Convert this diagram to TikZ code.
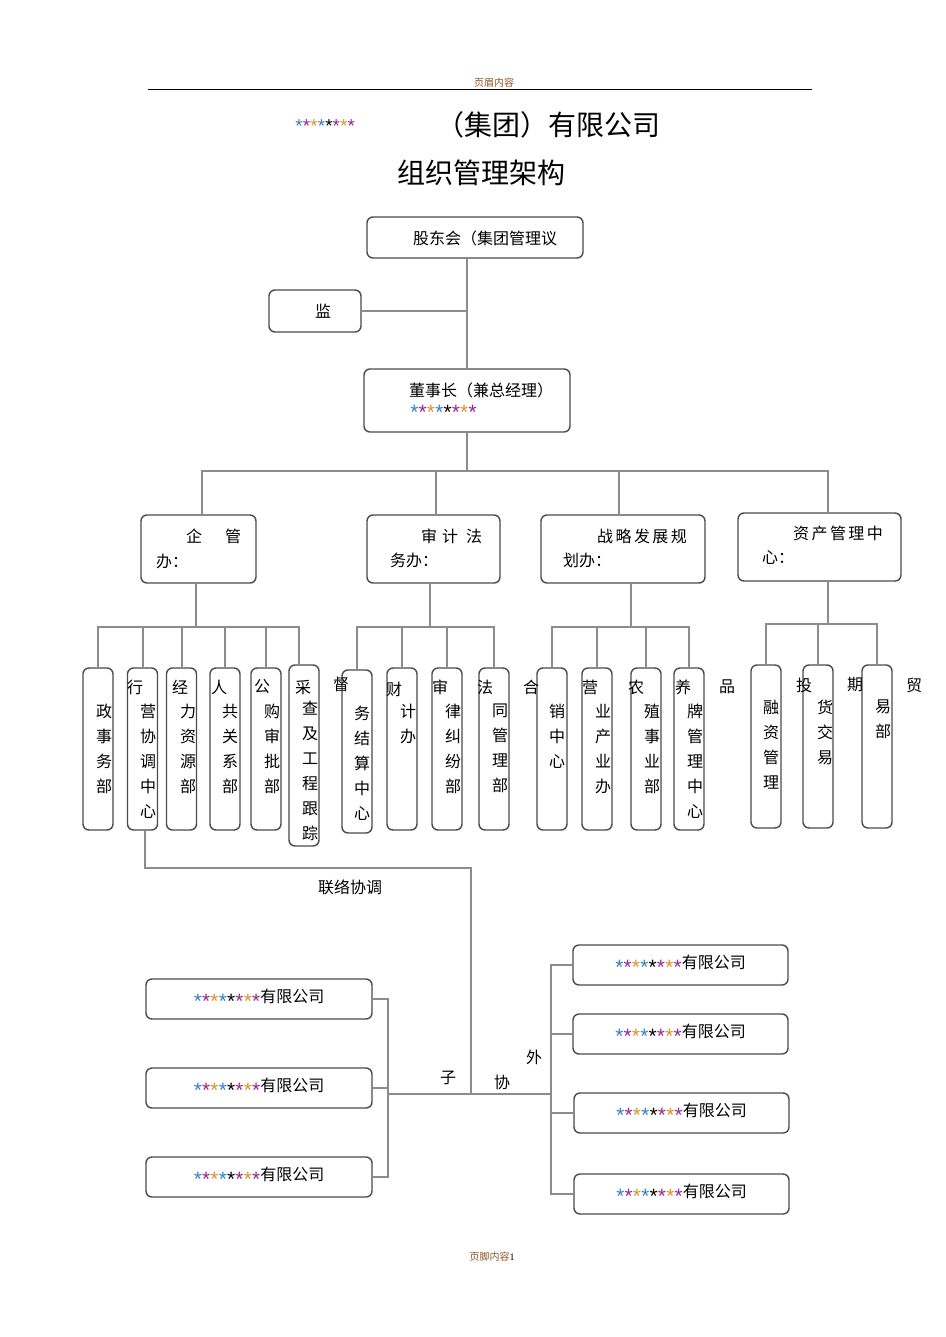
\documentclass[tikz,border=0pt]{standalone}
\usepackage{fontspec}
\setmainfont{Noto Sans CJK SC}
\newfontfamily\latinserif{Liberation Serif}
\newfontfamily\starfont{Liberation Sans}
\usetikzlibrary{positioning}

\definecolor{linegray}{RGB}{140,140,140}
\definecolor{boxgray}{RGB}{75,75,75}
\definecolor{hdrbrown}{RGB}{140,85,35}
\definecolor{starpurple}{RGB}{150,40,140}
\definecolor{starorange}{RGB}{215,150,40}
\definecolor{starblue}{RGB}{50,130,200}
\newcommand\onestar[1]{\makebox[0.52em]{\color{#1}\raisebox{-0.36em}{\scalebox{1.3}{*}}}}
\newcommand\colstars{{\starfont\onestar{starblue}\onestar{starpurple}\onestar{starorange}\onestar{starblue}\onestar{black}\onestar{starpurple}\onestar{starorange}\onestar{starpurple}}}

\tikzset{
  box/.style={draw=boxgray, line width=1.4pt, rounded corners=6pt, inner sep=0pt, font=\fontsize{16}{19}\selectfont},
  link/.style={draw=linegray, line width=2pt},
  txt/.style={inner sep=0pt, font=\fontsize{16}{19}\selectfont},
  vtxt/.style={inner sep=0pt, align=center, anchor=north, font=\fontsize{16}{25}\selectfont},
}

\begin{document}
\begin{tikzpicture}[x=1pt,y=-1pt]
  \useasboundingbox (0,0) rectangle (945,1337);
  \fill[white] (0,0) rectangle (945,1337);

  % page header and title
  \node[txt, font=\fontsize{10}{12}\selectfont, text=hdrbrown] (hdr) at (494,83) {页眉内容};
  \draw[line width=1pt] (148,90) -- (812,90);
  \node[txt, anchor=west, font=\fontsize{14.4}{16}\selectfont] (tstars) at (295,126) {\colstars};
  \node[txt, anchor=west, font=\fontsize{28}{30}\selectfont] (title) at (436,125) {（集团）有限公司};
  \node[txt, font=\fontsize{28}{30}\selectfont] (subtitle) at (481,173) {组织管理架构};

  % top levels
  \node[box, minimum width=216pt, minimum height=41pt] (gdh) at (475,237.5) {};
  \node[txt, anchor=west] (gdhtxt) at (413,238) {股东会（集团管理议};
  \node[box, minimum width=92pt, minimum height=42pt] (jian) at (315,311) {};
  \node[txt] (jiantxt) at (323,311) {监};
  \node[box, minimum width=206pt, minimum height=63pt] (dsz) at (467,400.5) {};
  \node[txt, anchor=west] (dsztxt) at (409,390) {董事长（兼总经理）};
  \node[txt, anchor=west] (dszstars) at (410,412) {\colstars};

  \draw[link] (dsz.north) -- (dsz.north |- gdh.south);
  \draw[link] (jian.east) -- (jian.east -| dsz.north);

  % offices
  \node[box, minimum width=115pt, minimum height=68pt] (qg) at (198.5,549) {};
  \node[txt, anchor=west] (qga) at (186,536) {企\hspace{23pt}管};
  \node[txt, anchor=west] (qgb) at (156,561) {办：};
  \node[box, minimum width=133pt, minimum height=68pt] (sj) at (433.5,549) {};
  \node[txt, anchor=west] (sja) at (421,536) {审\hspace{5pt}计\hspace{8pt}法};
  \node[txt, anchor=west] (sjb) at (390,560) {务办：};
  \node[box, minimum width=164pt, minimum height=68pt] (zl) at (623,549) {};
  \node[txt, anchor=west] (zla) at (597,536) {战\hspace{2.4pt}略\hspace{2.4pt}发\hspace{2.4pt}展\hspace{2.4pt}规};
  \node[txt, anchor=west] (zlb) at (563,560) {划办：};
  \node[box, minimum width=163pt, minimum height=68pt] (zc) at (819.5,547) {};
  \node[txt, anchor=west] (zca) at (793,533) {资\hspace{2.4pt}产\hspace{2.4pt}管\hspace{2.4pt}理\hspace{2.4pt}中};
  \node[txt, anchor=west] (zcb) at (762,558) {心：};

  \draw[link] (dsz.south) -- ++(0,38) coordinate (bus);
  \draw[link] (bus) -| ([xshift=3.5pt]qg.north);
  \draw[link] (bus) -| ([xshift=2.5pt]sj.north);
  \draw[link] (bus) -| ([xshift=-4pt]zl.north);
  \draw[link] (bus) -| ([xshift=8.5pt]zc.north);

  % departments
  \foreach \nm/\x in {v11/98, v12/142.5, v13/181.5, v14/225, v15/266,
                      v22/402, v23/447, v24/494,
                      v31/552, v32/597, v33/646, v34/689}
    \node[box, minimum width=30pt, minimum height=162pt] (\nm) at (\x,749) {};
  \node[box, minimum width=30pt, minimum height=181pt] (v16) at (304,755.5) {};
  \node[box, minimum width=30pt, minimum height=163pt] (v21) at (357,751.5) {};
  \foreach \nm/\x in {v41/766, v42/818, v43/877}
    \node[box, minimum width=30pt, minimum height=163pt] (\nm) at (\x,746.5) {};

  \draw[link] ([xshift=-2.5pt]qg.south) -- ++(0,43) coordinate (qgbus);
  \foreach \nm in {v11,v12,v13,v14,v15}
    \draw[link] (qgbus) -| (\nm.north);
  \draw[link] (qgbus) -| ([xshift=-5pt]v16.north);
  \draw[link] ([xshift=-3.5pt]sj.south) -- ++(0,43) coordinate (sjbus);
  \foreach \nm in {v21,v22,v23,v24}
    \draw[link] (sjbus) -| (\nm.north);
  \draw[link] ([xshift=8pt]zl.south) -- ++(0,43) coordinate (zlbus);
  \foreach \nm in {v31,v32,v33,v34}
    \draw[link] (zlbus) -| (\nm.north);
  \draw[link] ([xshift=8.5pt]zc.south) -- ++(0,42) coordinate (zcbus);
  \foreach \nm in {v41,v42,v43}
    \draw[link] (zcbus) -| (\nm.north);

  % stray first characters
  \foreach \c/\x/\y [count=\i] in {行/135/687, 经/180/687, 人/219/687, 公/262/687, 采/303/687,
                                    督/341/684, 财/394/689, 审/440/687, 法/485/687,
                                    合/531/687, 营/590/687, 农/636/687, 养/683/687, 品/727/687,
                                    投/804/685, 期/855/685, 贸/914/685}
    \node[txt] (lead\i) at (\x,\y) {\c};

  \node[vtxt] (t11) at (104,704) {政\\事\\务\\部};
  \node[vtxt] (t12) at (148,704) {营\\协\\调\\中\\心};
  \node[vtxt] (t13) at (188,704) {力\\资\\源\\部};
  \node[vtxt] (t14) at (230,704) {共\\关\\系\\部};
  \node[vtxt] (t15) at (272,704) {购\\审\\批\\部};
  \node[vtxt] (t16) at (310,701) {查\\及\\工\\程\\跟\\踪};
  \node[vtxt] (t21) at (362,706) {务\\结\\算\\中\\心};
  \node[vtxt] (t22) at (408,704) {计\\办};
  \node[vtxt] (t23) at (453,704) {律\\纠\\纷\\部};
  \node[vtxt] (t24) at (500,704) {同\\管\\理\\部};
  \node[vtxt] (t31) at (557,704) {销\\中\\心};
  \node[vtxt] (t32) at (603,704) {业\\产\\业\\办};
  \node[vtxt] (t33) at (652,704) {殖\\事\\业\\部};
  \node[vtxt] (t34) at (695,704) {牌\\管\\理\\中\\心};
  \node[vtxt] (t41) at (771,700) {融\\资\\管\\理};
  \node[vtxt] (t42) at (825,700) {货\\交\\易};
  \node[vtxt] (t43) at (883,700) {易\\部};

  % companies
  \coordinate (bend) at (471,868);
  \coordinate (hub) at (471,1094);
  \coordinate (lhub) at (388,1094);
  \coordinate (rhub) at (551,1094);
  \draw[link] ([xshift=2.5pt]v12.south) |- (bend) -- (hub);
  \node[txt] (llxt) at (350,887) {联络协调};
  \draw[link] (lhub) -- (rhub);

  \node[box, minimum width=226pt, minimum height=40pt] (c1) at (259,999) {\colstars 有限公司};
  \node[box, minimum width=226pt, minimum height=40pt] (c2) at (259,1088) {\colstars 有限公司};
  \node[box, minimum width=226pt, minimum height=40pt] (c3) at (259,1177) {\colstars 有限公司};
  \node[box, minimum width=215pt, minimum height=40pt] (d1) at (680.5,965) {\colstars 有限公司};
  \node[box, minimum width=215pt, minimum height=40pt] (d2) at (680.5,1034) {\colstars 有限公司};
  \node[box, minimum width=215pt, minimum height=40pt] (d3) at (681.5,1113) {\colstars 有限公司};
  \node[box, minimum width=215pt, minimum height=40pt] (d4) at (681.5,1194) {\colstars 有限公司};
  \foreach \nm in {c1,c2,c3}
    \draw[link] (\nm.east) -| (lhub);
  \foreach \nm in {d1,d2,d3,d4}
    \draw[link] (\nm.west) -| (rhub);

  \node[txt] (zi) at (448,1078) {子};
  \node[txt] (xie) at (502,1082) {协};
  \node[txt] (wai) at (534,1057) {外};

  % footer
  \node[txt, font=\fontsize{10}{12}\selectfont, text=hdrbrown] (ftr) at (492,1257) {页脚内容{\latinserif\color{black}1}};
\end{tikzpicture}
\end{document}
